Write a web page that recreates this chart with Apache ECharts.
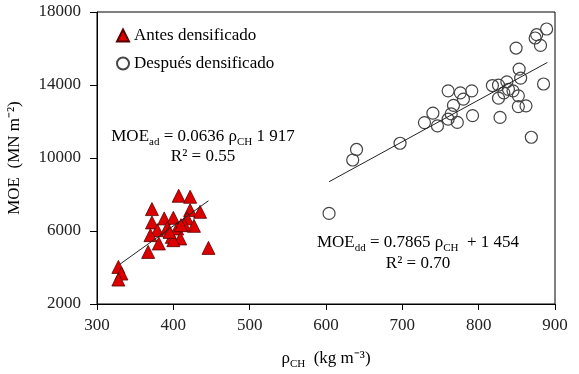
<!DOCTYPE html>
<html>
<head>
<meta charset="utf-8">
<script src="https://cdn.jsdelivr.net/npm/echarts@6/dist/echarts.min.js"></script>
<style>
html,body{margin:0;padding:0;background:#fff}
#main{width:579px;height:374px}
</style>
</head>
<body>
<div id="main"></div>
<script>
// datos
var antes = [
    [328,4032],[332,3669],[328,3340],[407,7931],[422,7876],[372,7200],[422,7146],
    [435,7052],[388,6690],[400,6723],[418,6690],[372,6470],[427,6283],[414,6360],
    [379,6047],[392,6173],[405,6140],[370,5773],[398,5679],[409,5591],[400,5498],
    [381,5317],[367,4856],[446,5075],[410,6320],[395,5950]
];
var despues = [
    [889,17069],[876,16756],[874,16574],[881,16168],[849,16025],[853,14872],[855,14378],
    [885,14054],[818,13971],[826,13993],[837,14175],[839,13763],[833,13571],[845,13680],
    [826,13279],[852,13406],[852,12818],[862,12857],[828,12225],[869,11138],[760,13680],
    [776,13571],[791,13680],[780,13225],[767,12884],[764,12417],[740,12456],[729,11940],
    [746,11758],[760,12126],[772,11951],[792,12324],[697,10808],[640,10468],[635,9891],
    [604,6964]
];
var lineaAntes = [[330,4180],[446,7656]];
var lineaDespues = [[604,8700],[890,15235]];

var serif = 'Liberation Serif';
var rich = {
    b: {fontFamily: serif, fontSize: 17, lineHeight: 22, color: '#000'},
    s: {fontFamily: serif, fontSize: 11, lineHeight: 12, verticalAlign: 'bottom', color: '#000'}
};

var myChart = echarts.init(document.getElementById('main'));

myChart.setOption({
    animation: false,
    grid: {left: 97, right: 24, top: 12, bottom: 70, show: true, borderColor: '#000', borderWidth: 1,
        outerBoundsMode: 'none', containLabel: false},
    legend: {
        orient: 'vertical', left: 111, top: 22, itemGap: 11, itemWidth: 12, itemHeight: 12,
        data: ['Antes densificado', 'Después densificado'],
        textStyle: {fontFamily: serif, fontSize: 17, color: '#000'}
    },
    xAxis: {
        type: 'value', min: 300, max: 900, interval: 100,
        name: '{s|ρ}{sub|CH}{s|  (kg m⁻³)}', nameLocation: 'middle', nameGap: 44,
        nameTextStyle: {rich: {
            s: {fontFamily: serif, fontSize: 17, lineHeight: 22, color: '#000'},
            sub: {fontFamily: serif, fontSize: 11, lineHeight: 12, verticalAlign: 'bottom', color: '#000'}
        }},
        splitLine: {show: false},
        axisLine: {lineStyle: {color: '#000'}},
        axisTick: {inside: false, length: 6, lineStyle: {color: '#000'}},
        axisLabel: {fontFamily: serif, fontSize: 17, color: '#222', margin: 13}
    },
    yAxis: {
        type: 'value', min: 2000, max: 18000, interval: 4000,
        name: 'MOE  (MN m⁻²)', nameLocation: 'middle', nameGap: 74,
        nameTextStyle: {fontFamily: serif, fontSize: 17, color: '#000'},
        splitLine: {show: false},
        axisLine: {show: true, lineStyle: {color: '#000'}},
        axisTick: {show: true, inside: false, length: 7, lineStyle: {color: '#000'}},
        axisLabel: {fontFamily: serif, fontSize: 17, color: '#222', margin: 16,
            formatter: function (v) { return String(v); }}
    },
    series: [{
        name: 'Antes densificado',
        type: 'scatter',
        symbol: 'triangle',
        symbolSize: 13,
        itemStyle: {color: '#dd0000', borderColor: '#5a0000', borderWidth: 0.8, opacity: 1},
        data: antes
    }, {
        name: 'Después densificado',
        type: 'scatter',
        symbol: 'circle',
        symbolSize: 12,
        itemStyle: {color: 'rgba(255,255,255,0)', borderColor: '#444', borderWidth: 1.2, opacity: 1},
        data: despues
    }, {
        type: 'line', data: lineaAntes, symbol: 'none', silent: true, z: 5,
        lineStyle: {color: '#222', width: 1}
    }, {
        type: 'line', data: lineaDespues, symbol: 'none', silent: true, z: 5,
        lineStyle: {color: '#222', width: 1}
    }],
    graphic: [{
        type: 'text', x: 203, y: 137,
        style: {text: '{b|MOE}{s|ad}{b| = 0.0636 ρ}{s|CH}{b| 1 917}', rich: rich,
            align: 'center', verticalAlign: 'middle', textAlign: 'center', textVerticalAlign: 'middle'}
    }, {
        type: 'text', x: 203, y: 157,
        style: {text: '{b|R² = 0.55}', rich: rich,
            align: 'center', verticalAlign: 'middle', textAlign: 'center', textVerticalAlign: 'middle'}
    }, {
        type: 'text', x: 418, y: 243,
        style: {text: '{b|MOE}{s|dd}{b| = 0.7865 ρ}{s|CH}{b|  + 1 454}', rich: rich,
            align: 'center', verticalAlign: 'middle', textAlign: 'center', textVerticalAlign: 'middle'}
    }, {
        type: 'text', x: 418, y: 264,
        style: {text: '{b|R² = 0.70}', rich: rich,
            align: 'center', verticalAlign: 'middle', textAlign: 'center', textVerticalAlign: 'middle'}
    }]
});
</script>
</body>
</html>
